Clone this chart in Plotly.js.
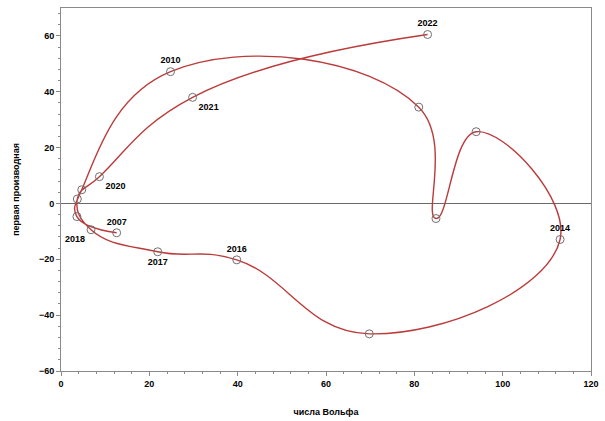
<!DOCTYPE html>
<html>
<head>
<meta charset="utf-8">
<script src="https://cdn.plot.ly/plotly-3.0.1.min.js"></script>
<style>html,body{margin:0;padding:0;background:#fff;}#chart{width:605px;height:421px;}</style>
</head>
<body>
<div id="chart"></div>
<script>
var years = [2007, 2008, 2009, 2010, 2011, 2012, 2013, 2014, 2015, 2016, 2017, 2018, 2019, 2020, 2021, 2022];
var wolf = [12.6, 3.6, 4.7, 24.8, 81.0, 84.9, 94.0, 113.0, 69.8, 39.8, 21.9, 6.8, 3.7, 8.7, 29.8, 83.0];
var deriv = [-10.5, -4.7, 4.9, 47.2, 34.5, -5.4, 25.7, -12.9, -46.7, -20.2, -17.3, -9.4, 1.6, 9.6, 38.0, 60.5];
var shownLabels = [2007, 2010, 2014, 2016, 2017, 2018, 2020, 2021, 2022];
var labelPos = {2007: 'top center', 2010: 'top center', 2014: 'top center', 2016: 'top center',
  2017: 'bottom center', 2018: 'bottom left', 2020: 'bottom right', 2021: 'bottom right', 2022: 'top center'};

var labels = years.map(function (y) { return shownLabels.indexOf(y) >= 0 ? '<b>' + y + '</b>' : ''; });
var positions = years.map(function (y) { return labelPos[y] || 'top center'; });

var curve = {
  x: wolf, y: deriv, mode: 'lines', type: 'scatter',
  line: {color: '#bb3b3b', width: 1.4, shape: 'spline', smoothing: 1.3},
  hoverinfo: 'skip', showlegend: false
};
var pts = {
  x: wolf, y: deriv, mode: 'markers+text', type: 'scatter',
  marker: {symbol: 'circle-open', size: 8, color: '#707070', line: {width: 1}},
  text: labels, textposition: positions,
  textfont: {family: 'Liberation Sans, Arial, sans-serif', size: 9, color: '#000'},
  showlegend: false
};

var axisCommon = {
  showgrid: false, showline: true, linecolor: '#8a8a8a', linewidth: 1, mirror: true,
  ticks: 'outside', ticklen: 4, tickcolor: '#8a8a8a',
  tickfont: {family: 'Liberation Sans, Arial, sans-serif', size: 9, color: '#000', weight: 'bold'},
  minor: {dtick: 4, ticks: 'outside', ticklen: 2, tickcolor: '#8a8a8a'}
};

var layout = {
  width: 605, height: 421,
  margin: {l: 61, r: 14, t: 8, b: 50},
  paper_bgcolor: '#fff', plot_bgcolor: '#fff',
  xaxis: Object.assign({}, axisCommon, {
    range: [0, 120], dtick: 20, tick0: 0, zeroline: false,
    title: {text: '<b>числа Вольфа</b>', standoff: 20,
      font: {family: 'Liberation Sans, Arial, sans-serif', size: 9, color: '#000'}}
  }),
  yaxis: Object.assign({}, axisCommon, {
    range: [-60, 70], dtick: 20, tick0: 0,
    zeroline: true, zerolinecolor: '#6a6a6a', zerolinewidth: 1,
    title: {text: '<b>первая производная</b>', standoff: 17,
      font: {family: 'Liberation Sans, Arial, sans-serif', size: 9, color: '#000'}}
  })
};

Plotly.newPlot('chart', [curve, pts], layout, {displayModeBar: false, staticPlot: true});
</script>
</body>
</html>
